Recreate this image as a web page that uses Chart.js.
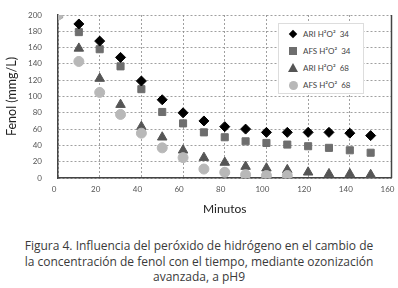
<!DOCTYPE html>
<html>
<head>
<meta charset="utf-8">
<script src="https://cdn.jsdelivr.net/npm/chart.js@4.4.1/dist/chart.umd.min.js"></script>
<style>
  html, body { margin: 0; padding: 0; background: #fff; }
  #wrap { position: relative; width: 398px; height: 288px; }
  #chart-box { position: absolute; left: 0; top: 0; width: 398px; height: 220px; }
  #legend {
    position: absolute; left: 278px; top: 23px; width: 84px; height: 69px;
    background: #fff; border: 1px solid #ddd; font: 8px Lato, sans-serif; color: #444;
  }
  .item { position: absolute; left: 24px; white-space: nowrap; line-height: 10px; }
  .mk { position: absolute; left: -14px; top: 1px; }
  .diamond { width: 6px; height: 6px; background: #000; transform: rotate(45deg); left: -13px; top: 2px; }
  .square { width: 8px; height: 8px; background: #6e6e6e; }
  .tri { width: 0; height: 0; border-left: 5px solid transparent; border-right: 5px solid transparent; border-bottom: 9px solid #555; left: -15px; top: 0; }
  .circle { width: 9px; height: 9px; border-radius: 50%; background: #b8b8b8; }
  #caption {
    position: absolute; left: 0; top: 238px; width: 398px; text-align: center;
    font: 12px "Open Sans", sans-serif; color: #3a3a3a; line-height: 15.5px;
  }
</style>
</head>
<body>
<div id="wrap">
  <div id="chart-box"><canvas id="fenolChart"></canvas></div>
  <div id="legend">
    <div class="item" style="top:5px"><span class="mk diamond"></span>ARI H²O²&nbsp; 34</div>
    <div class="item" style="top:22px"><span class="mk square"></span>AFS H²O²&nbsp; 34</div>
    <div class="item" style="top:39px"><span class="mk tri"></span>ARI H²O²&nbsp; 68</div>
    <div class="item" style="top:56px"><span class="mk circle"></span>AFS H²O²&nbsp; 68</div>
  </div>
  <div id="caption">Figura 4. Influencia del peróxido de hidrógeno en el cambio de<br>la concentración de fenol con el tiempo, mediante ozonización<br>avanzada, a pH9</div>
</div>
<script>
// minutos
const minutos = [0, 10, 20, 30, 40, 50, 60, 70, 80, 90, 100, 110, 120, 130, 140, 150];
const minutosAfs68 = [0, 10, 20, 30, 40, 50, 60, 70, 80, 90, 100, 110];

// fenol (mmg/L)
const ari34 = [200, 189, 168, 148, 119, 96, 80, 70, 63, 60, 56, 56, 56, 56, 55, 52];
const afs34 = [200, 179, 158, 137, 109, 81, 67, 56, 50, 45, 43, 41, 39, 37, 34, 31];
const ari68 = [200, 159, 122, 90, 63, 50, 34, 25, 19, 14, 12, 10, 7, 5, 5, 4];
const afs68 = [200, 143, 105, 78, 55, 37, 25, 11, 7, 4, 3, 3];

const nombres = ['ARI H²O²  34', 'AFS H²O²  34', 'ARI H²O²  68', 'AFS H²O²  68'];

function pares(xs, ys) {
    return ys.map((y, i) => ({ x: xs[i], y: y }));
}

// borde derecho sólido del área del gráfico
const bordeDerecho = {
    id: 'bordeDerecho',
    afterDraw(chart) {
        const a = chart.chartArea;
        const ctx = chart.ctx;
        ctx.save();
        ctx.strokeStyle = '#444';
        ctx.lineWidth = 1.5;
        ctx.beginPath();
        ctx.moveTo(a.right, a.top);
        ctx.lineTo(a.right, a.bottom);
        ctx.stroke();
        ctx.restore();
    }
};

const ctx = document.getElementById('fenolChart').getContext('2d');
new Chart(ctx, {
    type: 'scatter',
    data: {
        datasets: [
            { label: nombres[0], data: pares(minutos, ari34), pointStyle: 'rectRot', radius: 5, backgroundColor: '#000', borderColor: '#000', order: 1 },
            { label: nombres[1], data: pares(minutos, afs34), pointStyle: 'rect', radius: 5, backgroundColor: '#6e6e6e', borderColor: '#6e6e6e', order: 2 },
            { label: nombres[2], data: pares(minutos, ari68), pointStyle: 'triangle', radius: 5.5, backgroundColor: '#555', borderColor: '#555', order: 3 },
            { label: nombres[3], data: pares(minutosAfs68, afs68), pointStyle: 'circle', radius: 5, backgroundColor: '#b8b8b8', borderColor: '#b8b8b8', order: 0 }
        ]
    },
    options: {
        responsive: true,
        maintainAspectRatio: false,
        animation: false,
        layout: { padding: { left: 0, right: 5, top: 15, bottom: 0 } },
        plugins: { legend: { display: false }, tooltip: { enabled: false } },
        scales: {
            x: {
                type: 'linear', min: 0, max: 160,
                ticks: { stepSize: 20, color: '#555', font: { size: 8, family: 'Lato' }, padding: 7, labelOffset: -4 },
                grid: { color: '#888', lineWidth: 0.8, drawTicks: false },
                border: { color: '#444', width: 1.5, dash: [2, 2] },
                title: { display: true, text: 'Minutos', color: '#222', font: { size: 12, family: 'Lato' }, padding: { top: 4 } },
                afterFit(scale) { scale.height = 42; scale.paddingRight = 0; scale.paddingLeft = 0; }
            },
            y: {
                min: 0, max: 200,
                ticks: { stepSize: 20, color: '#555', font: { size: 8, family: 'Lato' }, padding: 16 },
                grid: { color: '#888', lineWidth: 0.8, drawTicks: false },
                border: { color: '#444', width: 1.5, dash: [2, 2] },
                title: { display: true, text: 'Fenol (mmg/L)', color: '#222', font: { size: 12.5, family: 'Lato' } },
                afterFit(scale) { scale.width = 58; scale.paddingTop = 0; scale.paddingBottom = 0; }
            }
        }
    },
    plugins: [bordeDerecho]
});
</script>
</body>
</html>
